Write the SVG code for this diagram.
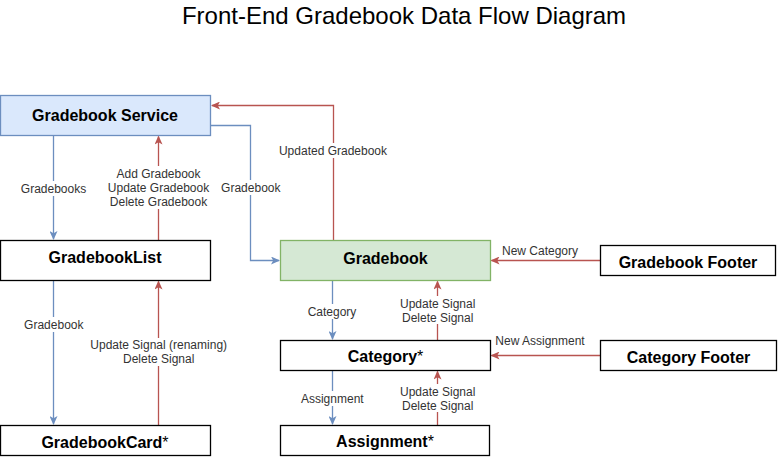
<svg xmlns="http://www.w3.org/2000/svg" width="778" height="466" viewBox="0 0 778 466">
<defs>
<style>
.node rect{stroke-width:1.3}
.plain rect{fill:#ffffff;stroke:#000000}
.nt{font-family:"Liberation Sans",Arial,sans-serif;font-size:16px;font-weight:bold;fill:#000;text-anchor:middle}
.ast{font-weight:normal}
.lbl{font-family:"Liberation Sans",Arial,sans-serif;font-size:12px;fill:#333333;text-anchor:middle}
.bg{fill:#ffffff}
.blue{stroke:#6c8ebf;stroke-width:1.3;fill:none;marker-end:url(#ab)}
.red{stroke:#b85450;stroke-width:1.3;fill:none;marker-end:url(#ar)}
</style>
<marker id="ab" viewBox="0 0 9 8" refX="8" refY="4" markerWidth="9" markerHeight="8" markerUnits="userSpaceOnUse" orient="auto">
<path d="M0,0 L9,4 L0,8 L2.2,4 z" fill="#6c8ebf"/>
</marker>
<marker id="ar" viewBox="0 0 9 8" refX="8" refY="4" markerWidth="9" markerHeight="8" markerUnits="userSpaceOnUse" orient="auto">
<path d="M0,0 L9,4 L0,8 L2.2,4 z" fill="#b85450"/>
</marker>
</defs>
<rect width="778" height="466" fill="#ffffff"/>
<text x="404" y="24" font-family="'Liberation Sans',Arial,sans-serif" font-size="24" fill="#000" text-anchor="middle">Front-End Gradebook Data Flow Diagram</text>

<g id="connectors">
<path class="blue" d="M53.5,135.5 V239"/>
<path class="red" d="M158.5,240.5 V136.5"/>
<path class="blue" d="M210.5,125.5 H250.5 V260.5 H279"/>
<path class="red" d="M333.5,240.5 V105.5 H212"/>
<path class="blue" d="M53.5,280.5 V424"/>
<path class="red" d="M158.5,425.5 V281.5"/>
<path class="red" d="M600.5,260.5 H491.5"/>
<path class="red" d="M600.5,355.5 H491.5"/>
<path class="blue" d="M332.5,280.5 V339"/>
<path class="red" d="M437.5,340.5 V281.5"/>
<path class="blue" d="M332.5,370.5 V424"/>
<path class="red" d="M437.5,425.5 V371.5"/>

<rect class="bg" x="21" y="181" width="65" height="15"/>
<text class="lbl" x="53.5" y="193">Gradebooks</text>
<rect class="bg" x="105" y="166" width="107" height="43"/>
<text class="lbl" x="158.5" y="177.5">Add Gradebook</text>
<text class="lbl" x="158.5" y="191.7">Update Gradebook</text>
<text class="lbl" x="158.5" y="205.9">Delete Gradebook</text>
<rect class="bg" x="221" y="180" width="60" height="15"/>
<text class="lbl" x="250.8" y="192">Gradebook</text>
<rect class="bg" x="278" y="143" width="110" height="15"/>
<text class="lbl" x="333" y="155">Updated Gradebook</text>
<rect class="bg" x="23" y="317" width="61" height="15"/>
<text class="lbl" x="53.8" y="328.5">Gradebook</text>
<rect class="bg" x="89" y="338" width="140" height="28"/>
<text class="lbl" x="158.7" y="349.2">Update Signal (renaming)</text>
<text class="lbl" x="158.7" y="363.2">Delete Signal</text>
<text class="lbl" x="540" y="255">New Category</text>
<rect class="bg" x="305" y="304" width="54" height="15"/>
<text class="lbl" x="332" y="316">Category</text>
<rect class="bg" x="399" y="296" width="78" height="28"/>
<text class="lbl" x="437.7" y="307.5">Update Signal</text>
<text class="lbl" x="437.7" y="322">Delete Signal</text>
<text class="lbl" x="540" y="345">New Assignment</text>
<rect class="bg" x="299" y="391" width="67" height="15"/>
<text class="lbl" x="332.3" y="402.5">Assignment</text>
<rect class="bg" x="399" y="384" width="78" height="28"/>
<text class="lbl" x="437.7" y="396">Update Signal</text>
<text class="lbl" x="437.7" y="409.5">Delete Signal</text>
</g>

<g id="gradebook-service" class="node">
<rect x="0.5" y="95.5" width="210" height="40" fill="#dae8fc" stroke="#6c8ebf"/>
<text class="nt" x="105" y="121.3">Gradebook Service</text>
</g>
<g id="gradebook-list" class="node plain">
<rect x="0.5" y="240.5" width="210" height="40"/>
<text class="nt" x="105" y="263">GradebookList</text>
</g>
<g id="gradebook-card" class="node plain">
<rect x="0.5" y="425.5" width="210" height="30"/>
<text class="nt" x="105" y="447.5">GradebookCard<tspan class="ast">*</tspan></text>
</g>
<g id="gradebook" class="node">
<rect x="280.5" y="240.5" width="210" height="40" fill="#d5e8d4" stroke="#82b366"/>
<text class="nt" x="385.5" y="263.5">Gradebook</text>
</g>
<g id="gradebook-footer" class="node plain">
<rect x="600.5" y="245.5" width="175" height="30"/>
<text class="nt" x="688" y="268">Gradebook Footer</text>
</g>
<g id="category" class="node plain">
<rect x="280.5" y="340.5" width="210" height="30"/>
<text class="nt" x="385.5" y="362">Category<tspan class="ast">*</tspan></text>
</g>
<g id="category-footer" class="node plain">
<rect x="600.5" y="340.5" width="176" height="30"/>
<text class="nt" x="688.5" y="363">Category Footer</text>
</g>
<g id="assignment" class="node plain">
<rect x="280.5" y="425.5" width="209" height="30"/>
<text class="nt" x="385" y="447">Assignment<tspan class="ast">*</tspan></text>
</g>
</svg>
